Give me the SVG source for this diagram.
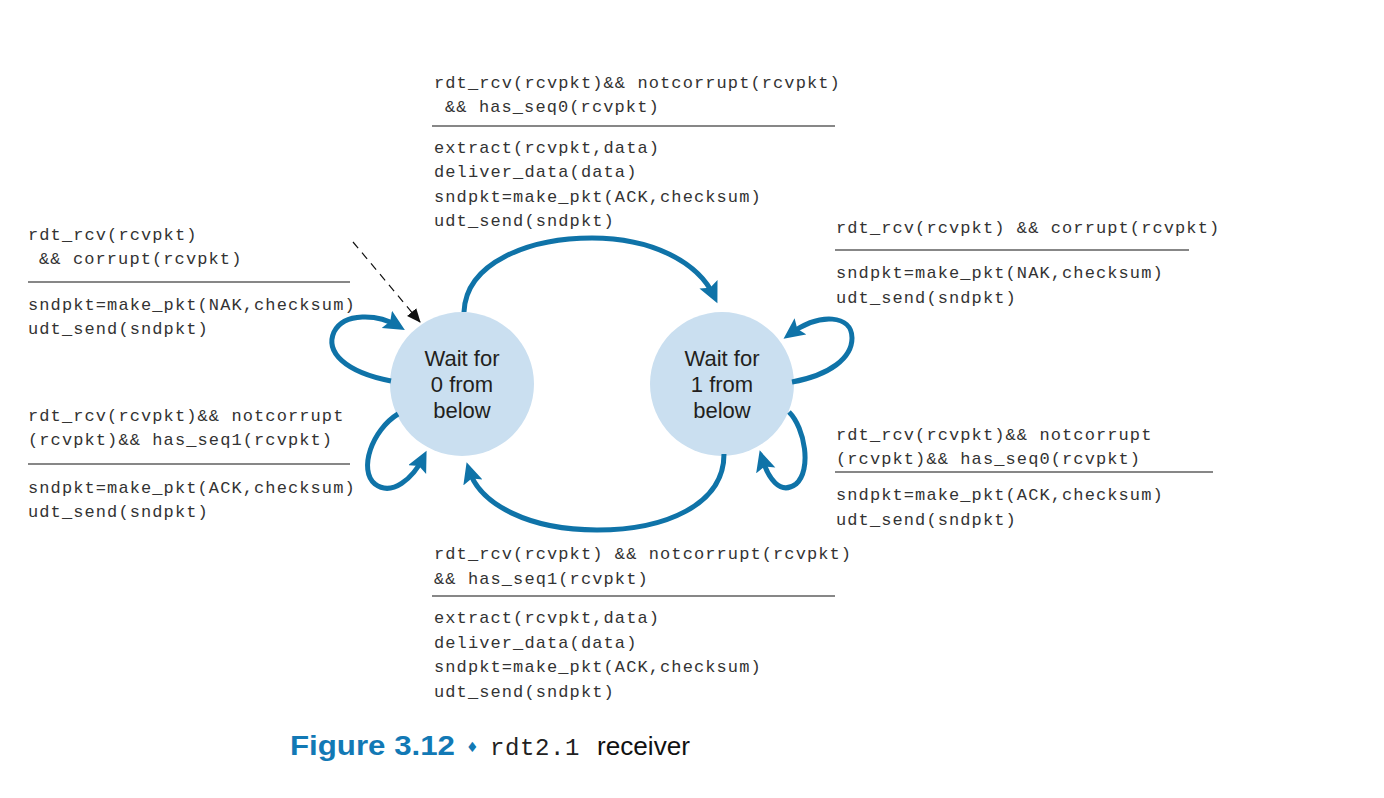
<svg xmlns="http://www.w3.org/2000/svg" width="1384" height="798" viewBox="0 0 1384 798">
<defs>
<marker id="ah" markerUnits="userSpaceOnUse" markerWidth="26" markerHeight="22" refX="13" refY="10" orient="auto" viewBox="0 0 26 22">
<path d="M0,0 L21,10 L0,20 L4,10 z" fill="#0f73a8"/>
</marker>
<marker id="ahk" markerUnits="userSpaceOnUse" markerWidth="16" markerHeight="14" refX="13" refY="6" orient="auto" viewBox="0 0 16 14">
<path d="M0,0 L14,6 L0,12 z" fill="#111"/>
</marker>
<style>
.m{font-family:"Liberation Mono","Courier New",monospace;font-size:17px;letter-spacing:1.1px;fill:#333}
.s{font-family:"Liberation Sans",Arial,sans-serif;font-size:22px;fill:#231f20;text-anchor:middle}
.sep{stroke:#111;stroke-width:1.2}
.st{fill:#cadff0}
.tr{fill:none;stroke:#0f73a8;stroke-width:5;marker-end:url(#ah)}
</style>
</defs>
<rect width="1384" height="798" fill="#fff"/>
<g id="state0">
<circle class="st" cx="462" cy="384" r="72"/>
<text class="s" x="462" y="366">Wait for</text>
<text class="s" x="462" y="392">0 from</text>
<text class="s" x="462" y="418">below</text>
</g>
<g id="state1">
<circle class="st" cx="722" cy="384" r="72"/>
<text class="s" x="722" y="366">Wait for</text>
<text class="s" x="722" y="392">1 from</text>
<text class="s" x="722" y="418">below</text>
</g>
<g id="connectors">
<path class="tr" d="M464,312 C466,262 530,238 592,238 C652,238 698,262 714,296"/>
<path class="tr" d="M724,454 C724,505 665,530 597,530 C530,530 480,505 469,470"/>
<path class="tr" d="M391,381 C345,372 325,352 334,332 C344,312 378,314 398,326"/>
<path class="tr" d="M398,414 C372,430 358,470 375,484 C392,497 413,478 423,458"/>
<path class="tr" d="M792,382 C830,375 852,358 852,338 C852,315 820,312 790,334"/>
<path class="tr" d="M789,412 C805,428 812,470 796,484 C780,496 768,478 762,458"/>
<path d="M353,242 L420,322" fill="none" stroke="#111" stroke-width="1.2" stroke-dasharray="8,6" marker-end="url(#ahk)"/>
</g>
<g id="label-top">
<text class="m" x="434" y="88">rdt_rcv(rcvpkt)&amp;&amp; notcorrupt(rcvpkt)</text>
<text class="m" x="445" y="112">&amp;&amp; has_seq0(rcvpkt)</text>
<line class="sep" x1="432" y1="126" x2="835" y2="126"/>
<text class="m" x="434" y="153">extract(rcvpkt,data)</text>
<text class="m" x="434" y="177">deliver_data(data)</text>
<text class="m" x="434" y="202">sndpkt=make_pkt(ACK,checksum)</text>
<text class="m" x="434" y="226">udt_send(sndpkt)</text>
</g>
<g id="label-left-top">
<text class="m" x="28" y="240">rdt_rcv(rcvpkt)</text>
<text class="m" x="39" y="264">&amp;&amp; corrupt(rcvpkt)</text>
<line class="sep" x1="28" y1="282" x2="350" y2="282"/>
<text class="m" x="28" y="310">sndpkt=make_pkt(NAK,checksum)</text>
<text class="m" x="28" y="334">udt_send(sndpkt)</text>
</g>
<g id="label-left-bottom">
<text class="m" x="28" y="421">rdt_rcv(rcvpkt)&amp;&amp; notcorrupt</text>
<text class="m" x="28" y="445">(rcvpkt)&amp;&amp; has_seq1(rcvpkt)</text>
<line class="sep" x1="28" y1="464" x2="350" y2="464"/>
<text class="m" x="28" y="493">sndpkt=make_pkt(ACK,checksum)</text>
<text class="m" x="28" y="517">udt_send(sndpkt)</text>
</g>
<g id="label-right-top">
<text class="m" x="836" y="233">rdt_rcv(rcvpkt) &amp;&amp; corrupt(rcvpkt)</text>
<line class="sep" x1="835" y1="250" x2="1189" y2="250"/>
<text class="m" x="836" y="278">sndpkt=make_pkt(NAK,checksum)</text>
<text class="m" x="836" y="303">udt_send(sndpkt)</text>
</g>
<g id="label-right-bottom">
<text class="m" x="836" y="440">rdt_rcv(rcvpkt)&amp;&amp; notcorrupt</text>
<text class="m" x="836" y="464">(rcvpkt)&amp;&amp; has_seq0(rcvpkt)</text>
<line class="sep" x1="835" y1="472" x2="1213" y2="472"/>
<text class="m" x="836" y="500">sndpkt=make_pkt(ACK,checksum)</text>
<text class="m" x="836" y="525">udt_send(sndpkt)</text>
</g>
<g id="label-bottom">
<text class="m" x="434" y="559">rdt_rcv(rcvpkt) &amp;&amp; notcorrupt(rcvpkt)</text>
<text class="m" x="434" y="584">&amp;&amp; has_seq1(rcvpkt)</text>
<line class="sep" x1="432" y1="596" x2="835" y2="596"/>
<text class="m" x="434" y="623">extract(rcvpkt,data)</text>
<text class="m" x="434" y="648">deliver_data(data)</text>
<text class="m" x="434" y="672">sndpkt=make_pkt(ACK,checksum)</text>
<text class="m" x="434" y="697">udt_send(sndpkt)</text>
</g>
<g id="caption">
<text x="290" y="755" font-family="'Liberation Sans',Arial,sans-serif" font-weight="bold" font-size="27" fill="#1279b5" textLength="165" lengthAdjust="spacingAndGlyphs">Figure 3.12</text>
<text x="466" y="752" font-family="'DejaVu Sans',sans-serif" font-size="14" fill="#1279b5">♦</text>
<text x="490" y="755" font-family="'Liberation Mono','Courier New',monospace" font-size="24" letter-spacing="0.6" fill="#222">rdt2.1</text>
<text x="597" y="755" font-family="'Liberation Sans',Arial,sans-serif" font-size="25" fill="#111" textLength="93" lengthAdjust="spacingAndGlyphs">receiver</text>
</g>
</svg>
